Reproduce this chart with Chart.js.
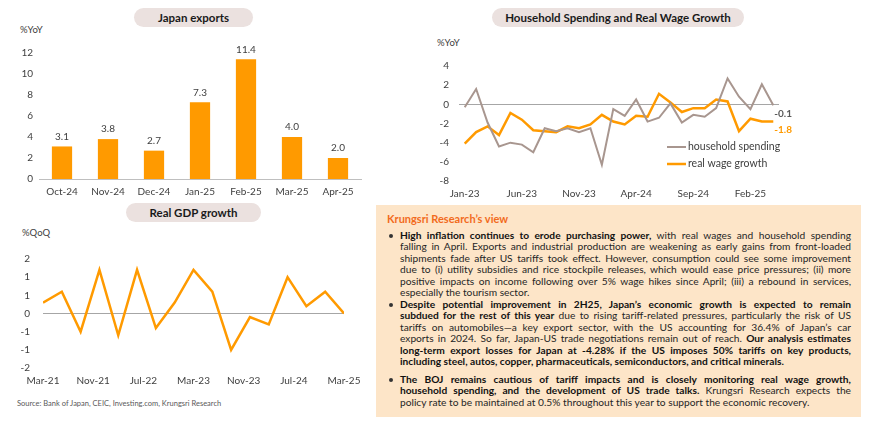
<!DOCTYPE html>
<html>
<head>
<meta charset="utf-8">
<script src="https://cdn.jsdelivr.net/npm/chart.js@4.4.1/dist/chart.umd.min.js"></script>
<style>
body { margin: 0; width: 870px; height: 425px; position: relative; background: #fff; font-family: Lato, sans-serif; overflow: hidden; }
.pill { position: absolute; height: 19px; line-height: 19px; border-radius: 10px; background: #ebe1df; text-align: center; font-weight: bold; font-size: 11.5px; color: #1a1a1a; }
.unit { position: absolute; font-size: 9.5px; color: #404040; }
.chart { position: absolute; }
.source { position: absolute; left: 17px; top: 399px; font-size: 7.5px; color: #595959; }
.box { position: absolute; left: 376px; top: 205px; width: 485px; height: 212px; background: #fde5c8; }
.box h4 { margin: 0; position: absolute; left: 11px; top: 7px; font-size: 11px; color: #f26b1d; font-weight: bold; }
.bullet { position: absolute; left: 24px; width: 451px; font-size: 10.2px; line-height: 11.4px; color: #262626; }
.bullet div { text-align: justify; text-align-last: justify; white-space: nowrap; }
.bullet div.last { text-align-last: left; }
.bullet::before { content: ''; position: absolute; left: -11px; top: 4px; width: 4px; height: 4px; border-radius: 2px; background: #333; }
.bullet b { color: #111; }
</style>
</head>
<body>

<div class="pill" style="left:134px;top:8px;width:119px;">Japan exports</div>
<div class="pill" style="left:492px;top:8px;width:252px;">Household Spending and Real Wage Growth</div>
<div class="pill" style="left:126px;top:203px;width:135px;">Real GDP growth</div>

<div class="unit" style="left:20px;top:24px;">%YoY</div>
<div class="unit" style="left:437px;top:37px;">%YoY</div>
<div class="unit" style="left:22px;top:227px;">%QoQ</div>

<div class="chart" style="left:0;top:40px;width:370px;height:160px;"><canvas id="exportsChart"></canvas></div>
<div class="chart" style="left:390px;top:50px;width:410px;height:152px;"><canvas id="householdChart"></canvas></div>
<div class="chart" style="left:0;top:240px;width:370px;height:149px;"><canvas id="gdpChart"></canvas></div>

<div class="source">Source: Bank of Japan, CEIC, Investing.com, Krungsri Research</div>

<div class="box">
  <h4>Krungsri Research’s view</h4>
  <div class="bullet" style="top:25px;">
    <div><b>High inflation continues to erode purchasing power,</b> with real wages and household spending</div>
    <div>falling in April. Exports and industrial production are weakening as early gains from front-loaded</div>
    <div>shipments fade after US tariffs took effect. However, consumption could see some improvement</div>
    <div>due to (i) utility subsidies and rice stockpile releases, which would ease price pressures; (ii) more</div>
    <div>positive impacts on income following over 5% wage hikes since April; (iii) a rebound in services,</div>
    <div class="last">especially the tourism sector.</div>
  </div>
  <div class="bullet" style="top:94px;">
    <div><b>Despite potential improvement in 2H25, Japan’s economic growth is expected to remain</b></div>
    <div><b>subdued for the rest of this year</b> due to rising tariff-related pressures, particularly the risk of US</div>
    <div>tariffs on automobiles—a key export sector, with the US accounting for 36.4% of Japan’s car</div>
    <div>exports in 2024. So far, Japan-US trade negotiations remain out of reach. <b>Our analysis estimates</b></div>
    <div><b>long-term export losses for Japan at -4.28% if the US imposes 50% tariffs on key products,</b></div>
    <div class="last"><b>including steel, autos, copper, pharmaceuticals, semiconductors, and critical minerals.</b></div>
  </div>
  <div class="bullet" style="top:169px;">
    <div><b>The BOJ remains cautious of tariff impacts and is closely monitoring real wage growth,</b></div>
    <div><b>household spending, and the development of US trade talks.</b> Krungsri Research expects the</div>
    <div class="last">policy rate to be maintained at 0.5% throughout this year to support the economic recovery.</div>
  </div>
</div>

<script>
// --- Data ---
const exportMonths = ['Oct-24', 'Nov-24', 'Dec-24', 'Jan-25', 'Feb-25', 'Mar-25', 'Apr-25'];
const exportValues = [3.1, 3.8, 2.7, 7.3, 11.4, 4.0, 2.0];

const hhMonths = ['Jan-23', 'Feb-23', 'Mar-23', 'Apr-23', 'May-23', 'Jun-23', 'Jul-23', 'Aug-23', 'Sep-23', 'Oct-23',
    'Nov-23', 'Dec-23', 'Jan-24', 'Feb-24', 'Mar-24', 'Apr-24', 'May-24', 'Jun-24', 'Jul-24', 'Aug-24',
    'Sep-24', 'Oct-24', 'Nov-24', 'Dec-24', 'Jan-25', 'Feb-25', 'Mar-25', 'Apr-25'];
const hhTickLabels = ['Jan-23', 'Jun-23', 'Nov-23', 'Apr-24', 'Sep-24', 'Feb-25'];
const householdSpending = [-0.3, 1.6, -1.9, -4.4, -4.0, -4.2, -5.0, -2.5, -2.8, -2.5, -2.9, -2.5, -6.3, -0.5,
    -1.2, 0.5, -1.8, -1.4, 0.1, -1.9, -1.1, -1.3, -0.4, 2.7, 0.8, -0.5, 2.1, -0.1];
const realWageGrowth = [-4.1, -2.9, -2.3, -3.2, -0.9, -1.6, -2.7, -2.8, -2.9, -2.3, -2.5, -2.1, -1.1, -1.8,
    -2.1, -1.2, -1.3, 1.1, 0.2, -0.8, -0.4, -0.4, 0.5, 0.3, -2.8, -1.5, -1.8, -1.8];

const gdpQuarters = ['Mar-21', 'Jun-21', 'Sep-21', 'Dec-21', 'Mar-22', 'Jun-22', 'Sep-22', 'Dec-22', 'Mar-23',
    'Jun-23', 'Sep-23', 'Dec-23', 'Mar-24', 'Jun-24', 'Sep-24', 'Dec-24', 'Mar-25'];
const gdpValues = [0.3, 0.6, -0.5, 1.2, -0.6, 1.2, -0.4, 0.3, 1.2, 0.6, -1.0, -0.1, -0.3, 1.0, 0.2, 0.6, 0.0];
const gdpTickLabels = ['Mar-21', 'Nov-21', 'Jul-22', 'Mar-23', 'Nov-23', 'Jul-24', 'Mar-25'];

// --- Styling ---
const ORANGE = '#ff9a00';
const MAUVE = '#a8968f';
const TEXT = '#404040';

Chart.defaults.font.family = 'Lato, sans-serif';
Chart.defaults.font.size = 10;
Chart.defaults.color = TEXT;
Chart.defaults.animation = false;
Chart.defaults.plugins.legend.display = false;
Chart.defaults.plugins.tooltip.enabled = false;
Chart.defaults.maintainAspectRatio = false;

const zeroLine = ctx => ctx.tick && ctx.tick.value === 0 ? '#a6a6a6' : 'rgba(0,0,0,0)';

// shrink any text line that would not fit the box width
document.querySelectorAll('.bullet div').forEach(line => {
    line.style.display = 'inline-block';
    const w = line.getBoundingClientRect().width;
    line.style.display = '';
    if (w > 451) line.style.fontSize = (10.2 * 451 / w - 0.05).toFixed(2) + 'px';
});

// --- Japan exports (bars) ---
const barLabels = {
    id: 'barLabels',
    afterDatasetsDraw(chart) {
        const ctx = chart.ctx;
        ctx.save();
        ctx.font = '10px Lato, sans-serif';
        ctx.fillStyle = TEXT;
        ctx.textAlign = 'center';
        ctx.textBaseline = 'middle';
        chart.getDatasetMeta(0).data.forEach((bar, i) => {
            ctx.fillText(exportValues[i].toFixed(1), bar.x, bar.y - 10);
        });
        ctx.restore();
    }
};

new Chart(document.getElementById('exportsChart'), {
    type: 'bar',
    data: {
        labels: exportMonths,
        datasets: [{ data: exportValues, backgroundColor: ORANGE, barPercentage: 0.44, categoryPercentage: 1 }]
    },
    options: {
        layout: { padding: { top: 13, right: 9, bottom: 1, left: 0 } },
        scales: {
            x: {
                grid: { display: false, drawTicks: false },
                border: { color: '#bfbfbf' },
                ticks: { padding: 7, maxRotation: 0 },
                afterFit: s => { s.height = 20; }
            },
            y: {
                min: 0, max: 12,
                ticks: { stepSize: 2, padding: 6 },
                grid: { display: false, drawTicks: false },
                border: { display: false },
                afterFit: s => { s.width = 39; }
            }
        }
    },
    plugins: [barLabels]
});

// --- Household spending & real wage (lines) ---
const endLabels = {
    id: 'endLabels',
    afterDatasetsDraw(chart) {
        const ctx = chart.ctx;
        ctx.save();
        ctx.font = 'bold 10px Lato, sans-serif';
        ctx.textAlign = 'left';
        ctx.textBaseline = 'middle';
        chart.data.datasets.forEach((ds, i) => {
            const pts = chart.getDatasetMeta(i).data;
            const last = pts[pts.length - 1];
            ctx.fillStyle = ds.labelColor;
            ctx.fillText(ds.data[ds.data.length - 1].toFixed(1), last.x + 1, last.y + 8);
        });
        ctx.restore();
    }
};

const insideLegend = {
    id: 'insideLegend',
    afterDraw(chart) {
        const ctx = chart.ctx;
        const area = chart.chartArea;
        const x0 = area.left + 208;
        ctx.save();
        ctx.font = '10.5px Lato, sans-serif';
        ctx.textBaseline = 'middle';
        chart.data.datasets.forEach((ds, i) => {
            const y = area.top + 81 + i * 17;
            ctx.strokeStyle = ds.borderColor;
            ctx.lineWidth = ds.borderWidth;
            ctx.beginPath();
            ctx.moveTo(x0, y);
            ctx.lineTo(x0 + 19, y);
            ctx.stroke();
            ctx.fillStyle = TEXT;
            ctx.fillText(ds.label, x0 + 21, y);
        });
        ctx.restore();
    }
};

new Chart(document.getElementById('householdChart'), {
    type: 'line',
    data: {
        labels: hhMonths,
        datasets: [
            { label: 'household spending', data: householdSpending, borderColor: MAUVE, borderWidth: 2,
              pointRadius: 0, tension: 0, labelColor: '#595959' },
            { label: 'real wage growth', data: realWageGrowth, borderColor: ORANGE, borderWidth: 2.5,
              pointRadius: 0, tension: 0, labelColor: ORANGE }
        ]
    },
    options: {
        layout: { padding: { top: 15, right: 21, bottom: 1, left: 0 } },
        scales: {
            x: {
                offset: true,
                grid: { display: false, drawTicks: false },
                border: { display: false },
                ticks: {
                    autoSkip: false, maxRotation: 0, padding: 7,
                    callback: (v, i) => hhTickLabels.includes(hhMonths[i]) ? hhMonths[i] : ''
                },
                afterFit: s => { s.height = 20; }
            },
            y: {
                min: -8, max: 4,
                ticks: { stepSize: 2, padding: 10 },
                grid: { color: zeroLine, drawTicks: false },
                border: { display: false },
                afterFit: s => { s.width = 69; }
            }
        }
    },
    plugins: [endLabels, insideLegend]
});

// --- Real GDP growth (quarterly line on a monthly axis) ---
new Chart(document.getElementById('gdpChart'), {
    type: 'line',
    data: {
        datasets: [{
            data: gdpValues.map((v, i) => ({ x: i * 3, y: v })),
            borderColor: ORANGE, borderWidth: 2.5, pointRadius: 0, tension: 0
        }]
    },
    options: {
        layout: { padding: { top: 14, right: 26, bottom: 1, left: 0 } },
        scales: {
            x: {
                type: 'linear', min: 0, max: 48,
                grid: { display: false, drawTicks: false },
                border: { display: false },
                ticks: { stepSize: 8, maxRotation: 0, padding: 7, callback: v => gdpTickLabels[v / 8] },
                afterFit: s => { s.height = 20; }
            },
            y: {
                min: -1.5, max: 1.5,
                ticks: {
                    stepSize: 0.5, padding: 13,
                    callback: v => v === 0 ? '0' : (v < 0 ? '-' : '') + Math.round(Math.abs(v))
                },
                grid: { color: zeroLine, drawTicks: false },
                border: { display: false },
                afterFit: s => { s.width = 43; }
            }
        }
    }
});
</script>
</body>
</html>
